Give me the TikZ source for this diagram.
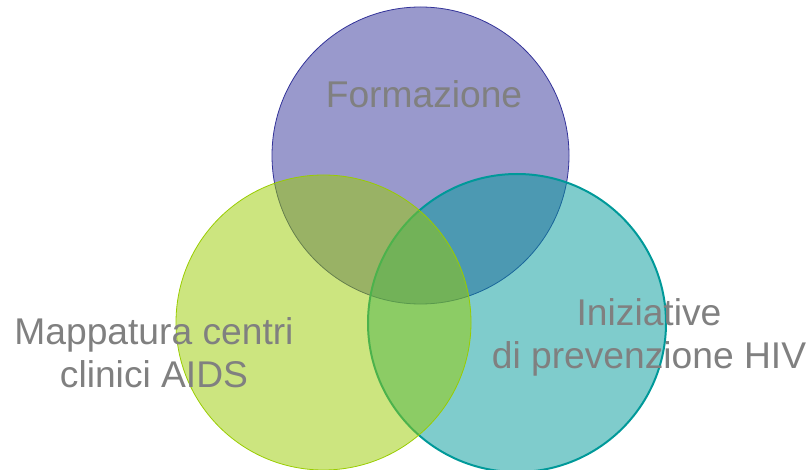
\documentclass[tikz,border=0pt]{standalone}
\usepackage{fontspec}
\setmainfont{Liberation Sans}
\definecolor{topfill}{HTML}{333399}
\definecolor{leftfill}{HTML}{99CC00}
\definecolor{rightfill}{HTML}{009999}
\definecolor{labelgray}{HTML}{808080}
\begin{document}
\begin{tikzpicture}[x=1pt,y=-1pt,
  venn/.style={circle,inner sep=0pt,fill opacity=0.5},
  lbl/.style={text=labelgray,font=\fontsize{37.2}{43}\selectfont,align=center,inner sep=0pt}]
\useasboundingbox (0,0) rectangle (810,470);
\node[venn,minimum size=297pt,fill=topfill,draw=topfill,line width=0.8pt] (top) at (420.5,155.5) {};
\node[venn,minimum size=298pt,fill=rightfill,draw=rightfill,draw opacity=1,line width=2pt] (right) at (517,323) {};
\node[venn,minimum size=295pt,fill=leftfill,draw=leftfill,line width=0.8pt] (left) at (323.5,322.5) {};
\node[lbl,anchor=base] (tform) at (424,108) {Formazione};
\node[lbl,anchor=base] (tmap) at (154,387) {Mappatura centri\\clinici AIDS};
\node[lbl,anchor=base] (tiniz) at (649,368) {Iniziative\\di prevenzione HIV};
\end{tikzpicture}
\end{document}
